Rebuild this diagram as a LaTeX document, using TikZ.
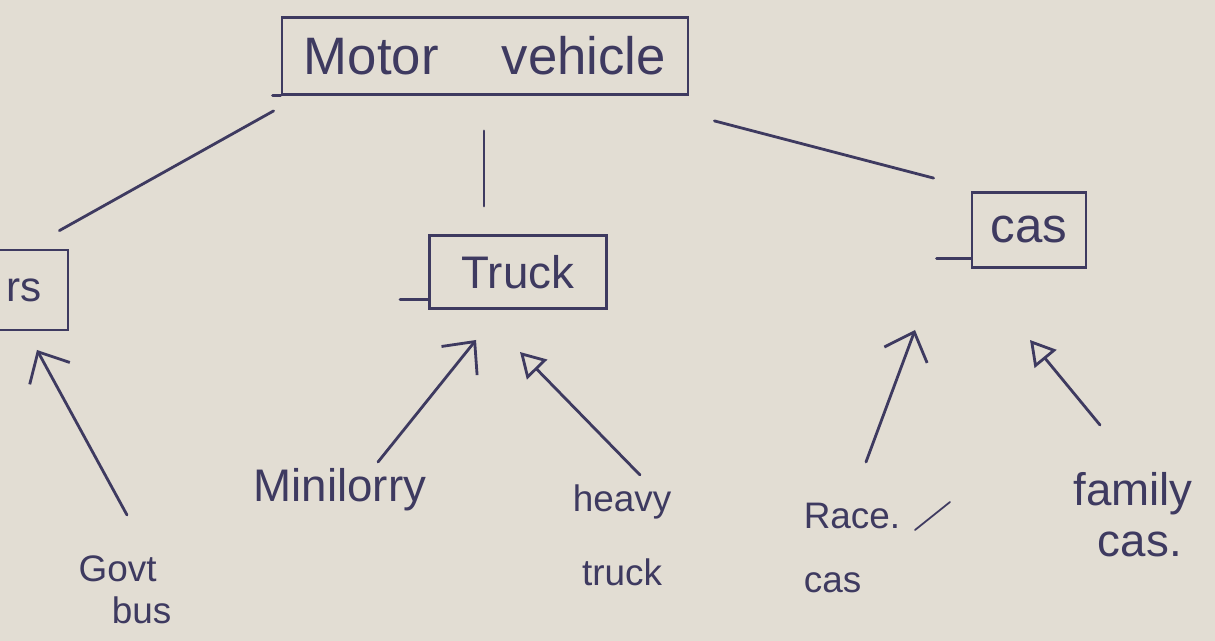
\documentclass[tikz,border=0pt]{standalone}
\usepackage{fontspec}
\setmainfont{Liberation Sans}
\usetikzlibrary{arrows.meta}
\definecolor{paper}{RGB}{226,221,211}
\definecolor{ink}{RGB}{62,58,96}
\tikzset{
  box/.style={draw=ink, text=ink, line width=1.6pt, rectangle, inner sep=0pt},
  word/.style={text=ink, align=center, inner sep=0pt},
  link/.style={draw=ink, line width=1.6pt, line cap=round},
  isa/.style={link, -{Straight Barb[length=14pt, width=26pt, line width=1.6pt]}},
  isatri/.style={link, -{Triangle[open, length=14pt, width=16pt, line width=1.6pt]}},
}
\begin{document}
\begin{tikzpicture}[x=0.02cm, y=-0.02cm]
  \useasboundingbox (0,0) rectangle (1215,641);
  \fill[paper] (0,0) rectangle (1215,641);

  % category boxes
  \node[box, minimum width=406*0.02cm, minimum height=77*0.02cm] (mv) at (485,56)
    {\fontsize{30}{34}\selectfont Motor\hspace{1.2em}vehicle};
  \node[box, minimum width=177*0.02cm, minimum height=73*0.02cm] (truck) at (518,272)
    {\fontsize{26}{30}\selectfont Truck};
  \node[box, minimum width=114*0.02cm, minimum height=75*0.02cm] (cars) at (1029,230)
    {\fontsize{28}{32}\selectfont cas};
  \node[box, minimum width=78*0.02cm, minimum height=80*0.02cm] (buses) at (29,290)
    {\hspace{-0.6em}\fontsize{24}{28}\selectfont rs};

  % bottom strokes running past the boxes
  \draw[link] (mv.south west) ++(-8,0) -- (mv.south west);
  \draw[link] ([shift={(0,-10)}]truck.south west) ++(-28,0) -- ([shift={(0,-10)}]truck.south west);
  \draw[link] ([shift={(0,-10)}]cars.south west) ++(-34,0) -- ([shift={(0,-10)}]cars.south west);

  % leaf labels
  \node[word, font=\fontsize{21}{24}\selectfont, align=left] (govt) at (125,590)
    {Govt\\\hspace{0.9em}bus};
  \node[word, font=\fontsize{26}{30}\selectfont] (mini) at (340,490) {Minilorry};
  \node[word, font=\fontsize{21}{42}\selectfont] (heavy) at (622,535) {heavy\\truck};
  \node[word, font=\fontsize{21}{36}\selectfont, align=left] (race) at (852,548) {Race.\\cas};
  \node[word, font=\fontsize{26}{29}\selectfont] (family) at (1133,515) {family\\\hspace{0.3em}cas.};

  % top-level links
  \draw[link] ([shift={(-7,15)}]mv.south west) -- ([shift={(-10,-18)}]buses.north east);
  \draw[link] ([shift={(-1,35)}]mv.south) -- ([shift={(-34,-28)}]truck.north);
  \draw[link] ([shift={(25,25)}]mv.south east) -- ([shift={(-37,-13)}]cars.north west);

  % arrows from the leaves
  \draw[isa] ([shift={(2,-75)}]govt.center) -- ([shift={(8,60)}]buses.center);
  \draw[isa] ([shift={(38,-28)}]mini.center) -- ([shift={(-42,68)}]truck.center);
  \draw[isatri] ([shift={(18,-60)}]heavy.center) -- ([shift={(2,80)}]truck.center);
  \draw[isa] ([shift={(14,-86)}]race.center) -- ([shift={(-114,100)}]cars.center);
  \draw[isatri] ([shift={(-33,-90)}]family.center) -- ([shift={(1,110)}]cars.center);

  % small stroke beside "Race."
  \draw[link, line width=1pt] ([shift={(63,-18)}]race.center) -- ([shift={(98,-46)}]race.center);
\end{tikzpicture}
\end{document}
